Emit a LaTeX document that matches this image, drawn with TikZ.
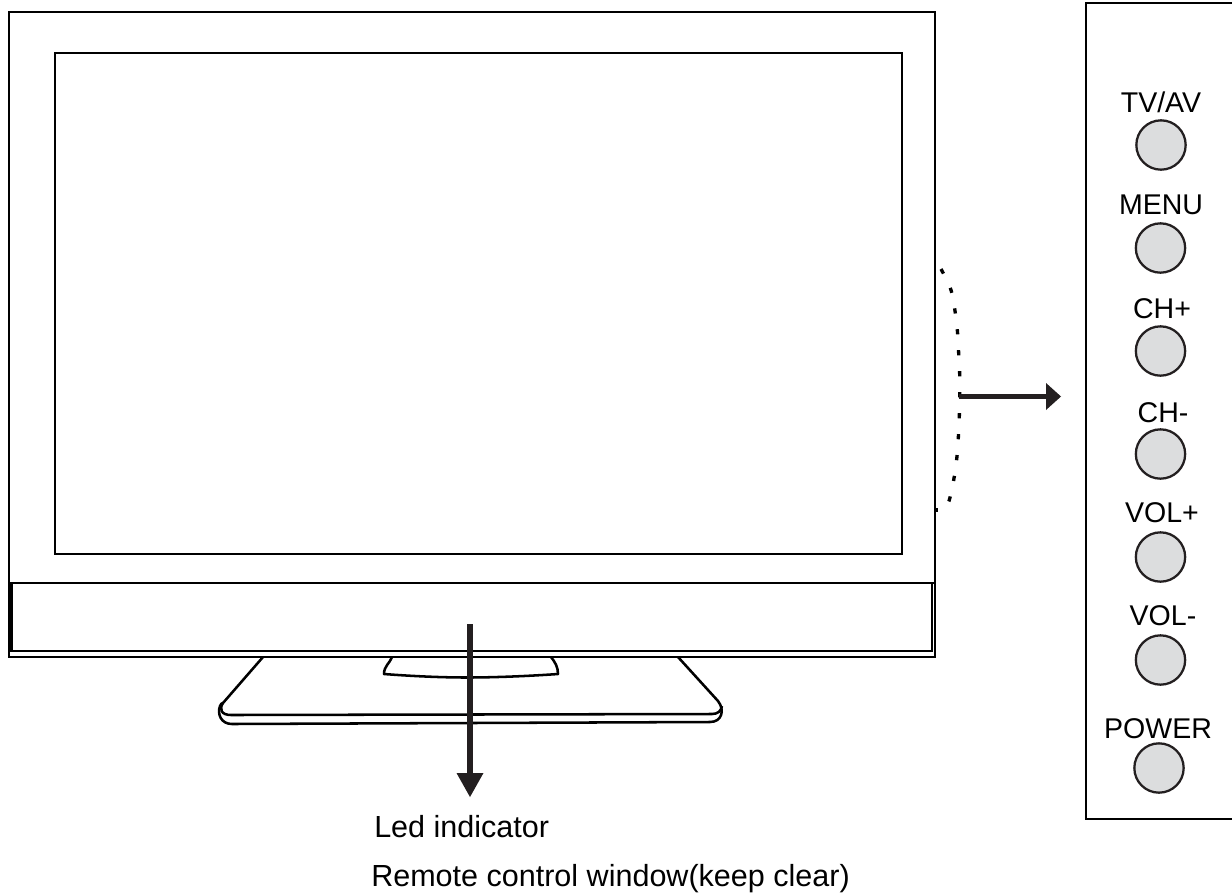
\documentclass[tikz,border=0pt]{standalone}
\usepackage{fontspec}
\setmainfont{Liberation Sans}
\usetikzlibrary{arrows.meta}
\definecolor{ink}{HTML}{000000}
\definecolor{arrowink}{HTML}{231F20}
\definecolor{btn}{HTML}{DCDDDE}
\tikzset{
  tvline/.style={draw=ink,line width=2.2pt,line join=miter},
  thinline/.style={draw=ink,line width=1.9pt,line join=round},
  btnc/.style={circle,draw=arrowink,fill=btn,line width=1.7pt,minimum size=37pt,inner sep=0pt},
  lbl/.style={font=\fontsize{21.4pt}{25pt}\selectfont,text=black,inner sep=0pt},
  captext/.style={font=\fontsize{22.9pt}{27pt}\selectfont,text=black,inner sep=0pt},
  hardarrow/.style={draw=arrowink,line width=4.2pt},
}
\begin{document}
\begin{tikzpicture}[x=0.75pt,y=-0.75pt]
\useasboundingbox (0,0) rectangle (1232,893);
% TV
\draw[tvline] (9,12) rectangle (935,657);
\draw[tvline] (55,53) rectangle (902,554);
\draw[tvline] (10,583) -- (934,583);
\draw[tvline] (12,583) -- (12,651) -- (932,651) -- (932,583);
\draw[tvline,line width=3.2pt] (10.5,583) -- (10.5,652);
% stand
\draw[thinline] (263,657) -- (223,703) .. controls (219,709) and (221,715) .. (231,715) -- (712,714) .. controls (718,714) and (721,711) .. (722,706);
\draw[thinline] (678,657) -- (718,701) .. controls (725,710) and (722,722) .. (710,722) -- (232,724) .. controls (221,724) and (217,714) .. (220,706) .. controls (220.5,704) and (222,703) .. (223,703);
\draw[thinline] (392,657) .. controls (390,663) and (384,666) .. (384,674) .. controls (410,676) and (440,677.5) .. (467,677.5) .. controls (495,677.5) and (530,676) .. (558,674) .. controls (558,667) and (555,662) .. (551,657);
% dotted bracket
\draw[draw=ink,line width=2.5pt,dash pattern=on 3.9pt off 11.85pt]
  plot[smooth,tension=0.6] coordinates {(941,269) (951,290) (955,311) (957.5,332) (958.7,354) (959.7,375) (959.7,396) (959.3,417) (958.3,438) (956.7,459) (953.7,480) (949,501) (944,509)};
\fill[ink] (935,508) rectangle (938,512);
% panel
\draw[tvline] (1240,3) -- (1086,3) -- (1086,819) -- (1240,819);
% buttons
\node[btnc] (b1) at (1161,145) {};
\node[btnc] (b2) at (1160.5,248) {};
\node[btnc] (b3) at (1160.5,351) {};
\node[btnc] (b4) at (1160.5,454) {};
\node[btnc] (b5) at (1160.5,557) {};
\node[btnc] (b6) at (1160.5,660) {};
\node[btnc] (b7) at (1159,768) {};
\node[lbl,anchor=base] (l1) at (1161,112) {TV/AV};
\node[lbl,anchor=base] (l2) at (1161,214) {MENU};
\node[lbl,anchor=base] (l3) at (1162,318) {CH+};
\node[lbl,anchor=base] (l4) at (1163,422) {CH-};
\node[lbl,anchor=base] (l5) at (1162,522) {VOL+};
\node[lbl,anchor=base] (l6) at (1163,625) {VOL-};
\node[lbl,anchor=base] (l7) at (1158,738) {POWER};
% arrows
\coordinate (hs) at (959,396.5);
\coordinate (he) at (1048,396.5);
\draw[hardarrow] (hs) -- (he);
\fill[arrowink] (1046,383) -- (1061,396.5) -- (1046,410) -- cycle;
\coordinate (vs) at (470,624);
\coordinate (ve) at (470,775);
\draw[hardarrow] (vs) -- (ve);
\fill[arrowink] (456.5,773) -- (470,797) -- (483.5,773) -- cycle;
\node[captext,anchor=base west] (led) at (374,837) {Led indicator};
\node[captext,anchor=base west] (rem) at (371,886) {Remote control window(keep clear)};
\end{tikzpicture}
\end{document}
